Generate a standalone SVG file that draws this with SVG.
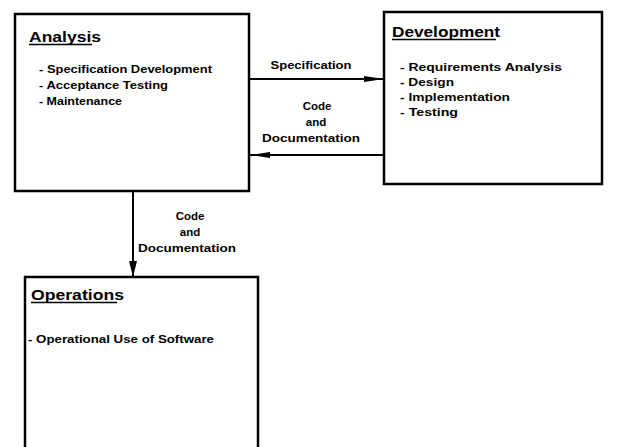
<svg xmlns="http://www.w3.org/2000/svg" width="625" height="447" viewBox="0 0 625 447">
<style>
  .box { fill: #fff; stroke: #000; stroke-width: 2.5; }
  .title { font-family: "Liberation Sans", Arial, sans-serif; font-weight: bold; font-size: 15px; fill: #000; }
  .item { font-family: "Liberation Sans", Arial, sans-serif; font-weight: bold; font-size: 11.5px; fill: #000; }
  .lbl { font-family: "Liberation Sans", Arial, sans-serif; font-weight: bold; font-size: 11.5px; fill: #000; text-anchor: middle; }
  .ul { stroke: #000; stroke-width: 1.6; }
  .conn { stroke: #000; stroke-width: 2; fill: none; }
</style>
<defs>
  <marker id="arr" markerWidth="20" markerHeight="8" refX="20" refY="4" orient="auto" markerUnits="userSpaceOnUse">
    <path d="M0,1 L20,4 L0,7 Z" fill="#000"/>
  </marker>
  <marker id="arrv" markerWidth="16" markerHeight="9" refX="16" refY="4.5" orient="auto" markerUnits="userSpaceOnUse">
    <path d="M0,0.5 L16,4.5 L0,8.5 Z" fill="#000"/>
  </marker>
</defs>
<rect width="625" height="447" fill="#fff"/>

<g id="connectors">
  <line class="conn" x1="250" y1="79" x2="384" y2="79" marker-end="url(#arr)"/>
  <line class="conn" x1="383" y1="155" x2="250" y2="155" marker-end="url(#arr)"/>
  <line class="conn" x1="133" y1="192" x2="133" y2="277" marker-end="url(#arrv)"/>
  <text class="lbl" x="311" y="69" textLength="81" lengthAdjust="spacingAndGlyphs">Specification</text>
  <text class="lbl" x="317" y="110">Code</text>
  <text class="lbl" x="316" y="126">and</text>
  <text class="lbl" x="311" y="142" textLength="98" lengthAdjust="spacingAndGlyphs">Documentation</text>
  <text class="lbl" x="190" y="220">Code</text>
  <text class="lbl" x="190" y="236">and</text>
  <text class="lbl" x="187" y="252" textLength="98" lengthAdjust="spacingAndGlyphs">Documentation</text>
</g>

<g id="analysis">
  <rect class="box" x="15" y="14" width="234" height="177"/>
  <text class="title" x="29" y="42" textLength="72" lengthAdjust="spacingAndGlyphs">Analysis</text>
  <line class="ul" x1="29" y1="44.5" x2="92" y2="44.5"/>
  <text class="item" x="39" y="73" textLength="173" lengthAdjust="spacingAndGlyphs">- Specification Development</text>
  <text class="item" x="39" y="89" textLength="129" lengthAdjust="spacingAndGlyphs">- Acceptance Testing</text>
  <text class="item" x="39" y="105" textLength="83" lengthAdjust="spacingAndGlyphs">- Maintenance</text>
</g>

<g id="development">
  <rect class="box" x="384" y="12" width="218" height="172"/>
  <text class="title" x="392" y="37" textLength="108" lengthAdjust="spacingAndGlyphs">Development</text>
  <line class="ul" x1="392" y1="39.5" x2="496" y2="39.5"/>
  <text class="item" x="400" y="71" textLength="162" lengthAdjust="spacingAndGlyphs">- Requirements Analysis</text>
  <text class="item" x="400" y="86" textLength="54" lengthAdjust="spacingAndGlyphs">- Design</text>
  <text class="item" x="400" y="101" textLength="110" lengthAdjust="spacingAndGlyphs">- Implementation</text>
  <text class="item" x="400" y="116" textLength="58" lengthAdjust="spacingAndGlyphs">- Testing</text>
</g>

<g id="operations">
  <path class="box" d="M25,450 L25,277 L258,277 L258,450"/>
  <text class="title" x="31" y="300" textLength="93" lengthAdjust="spacingAndGlyphs">Operations</text>
  <line class="ul" x1="31" y1="302.5" x2="117" y2="302.5"/>
  <text class="item" x="28" y="343" textLength="186" lengthAdjust="spacingAndGlyphs">- Operational Use of Software</text>
</g>
</svg>
